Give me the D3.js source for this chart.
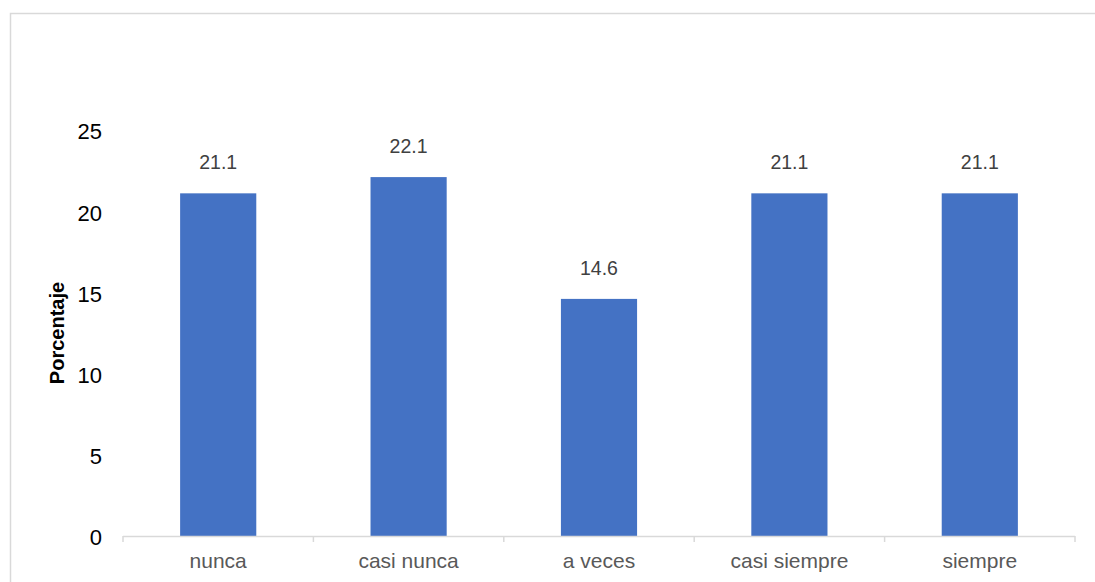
<!DOCTYPE html>
<html><head><meta charset="utf-8">
<script src="https://cdn.jsdelivr.net/npm/d3@7"></script>
<style>body{margin:0;background:#fff;}svg{display:block;}</style>
</head><body>
<script>
const categories = ["nunca", "casi nunca", "a veces", "casi siempre", "siempre"];
const values = [21.1, 22.1, 14.6, 21.1, 21.1];
const yTicks = [0, 5, 10, 15, 20, 25];
const yTitle = "Porcentaje";

const W = 1095, H = 582;
const svg = d3.select("body").append("svg").attr("width", W).attr("height", H);
const font = "'Liberation Sans', Arial, sans-serif";

// frame
svg.append("rect").attr("x", 10.5).attr("y", 13.5).attr("width", W + 20).attr("height", H + 20)
  .attr("fill", "#fff").attr("stroke", "#d9d9d9").attr("stroke-width", 1.5);

const x = d3.scaleBand().domain(categories).range([123, 1075]).paddingInner(0.6).paddingOuter(0.3);
const y = d3.scaleLinear().domain([0, 25]).range([536, 130]);

// bars
svg.selectAll("rect.bar").data(values).enter().append("rect").attr("class", "bar")
  .attr("x", (d, i) => x(categories[i])).attr("width", x.bandwidth())
  .attr("y", d => y(d)).attr("height", d => y(0) - y(d)).attr("fill", "#4472c4");

// data labels
svg.selectAll("text.lbl").data(values).enter().append("text").attr("class", "lbl")
  .attr("x", (d, i) => x(categories[i]) + x.bandwidth() / 2).attr("y", d => y(d) - 24)
  .attr("text-anchor", "middle").attr("font-family", font).attr("font-size", 19.5)
  .attr("fill", "#404040").text(d => d.toFixed(1));

// x axis
const step = x.step();
const xa = svg.append("g");
xa.append("line").attr("x1", 123).attr("x2", 1075).attr("y1", 536.5).attr("y2", 536.5)
  .attr("stroke", "#d9d9d9").attr("stroke-width", 1.5);
const bounds = d3.range(categories.length + 1).map(i => 123 + i * (1075 - 123) / categories.length);
xa.selectAll("line.tk").data(bounds).enter().append("line").attr("class", "tk")
  .attr("x1", d => d).attr("x2", d => d).attr("y1", 536).attr("y2", 542)
  .attr("stroke", "#d9d9d9").attr("stroke-width", 1.5);
xa.selectAll("text").data(categories).enter().append("text")
  .attr("x", d => x(d) + x.bandwidth() / 2).attr("y", 568)
  .attr("text-anchor", "middle").attr("font-family", font).attr("font-size", 21)
  .attr("fill", "#595959").text(d => d);

// y axis labels
const yAxis = d3.axisLeft(y).tickValues(yTicks).tickSize(0).tickPadding(0);
const ya = svg.append("g").attr("transform", "translate(102,0)").call(yAxis);
ya.select(".domain").remove();
ya.selectAll("text").attr("font-family", font).attr("font-size", 22).attr("fill", "#000")
  .attr("dy", "0.4em");

// y title
svg.append("text").attr("transform", "translate(64,333) rotate(-90)")
  .attr("text-anchor", "middle").attr("font-family", font).attr("font-size", 20)
  .attr("font-weight", "bold").attr("fill", "#000").text(yTitle);
</script>
</body></html>
